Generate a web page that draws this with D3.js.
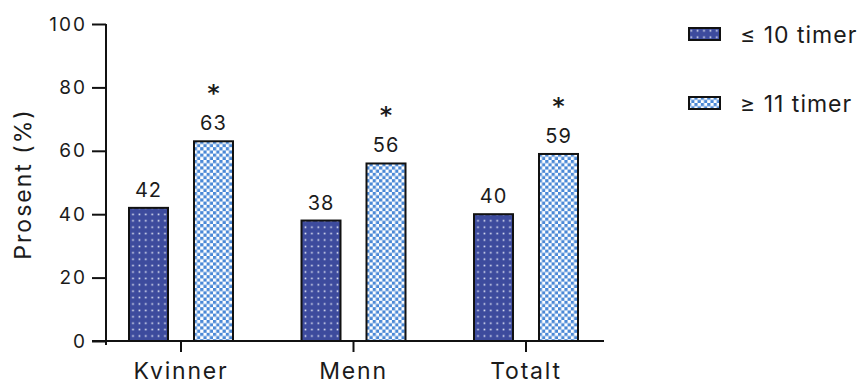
<!DOCTYPE html>
<html>
<head>
<meta charset="utf-8">
<script src="https://cdn.jsdelivr.net/npm/d3@7"></script>
<style>
  body { margin: 0; background: #fff; }
  svg { display: block; }
  text { font-family: Inter, "Noto Sans", sans-serif; fill: #1b1b1b; }
</style>
</head>
<body>
<svg id="chart" width="864" height="385"></svg>
<script>
// Share of respondents (%) by gender and weekly hours
const categories = ["Kvinner", "Menn", "Totalt"];
const seriesNames = ["≤ 10 timer", "≥ 11 timer"];
const shortHours = [42, 38, 40];   // ≤ 10 timer
const longHours = [63, 56, 59];    // ≥ 11 timer
const significant = [true, true, true]; // marked with * above the ≥ 11 timer bar
const yTicks = [0, 20, 40, 60, 80, 100];
const yTitle = "Prosent (%)";

const series = [shortHours, longHours];

const svg = d3.select("#chart");
const defs = svg.append("defs");

// dotted fill: dark blue with small white dots
const dots = defs.append("pattern")
  .attr("id", "pat-dots").attr("patternUnits", "userSpaceOnUse")
  .attr("width", 6.4).attr("height", 6.4);
dots.append("rect").attr("width", 6.4).attr("height", 6.4).attr("fill", "#3d4b9d");
dots.append("rect").attr("x", 2.4).attr("y", 2.4).attr("width", 1.6).attr("height", 1.6).attr("fill", "#e8ebf7");

// checkered fill: light blue and white
const check = defs.append("pattern")
  .attr("id", "pat-check").attr("patternUnits", "userSpaceOnUse")
  .attr("width", 6.4).attr("height", 6.4);
check.append("rect").attr("width", 6.4).attr("height", 6.4).attr("fill", "#ffffff");
check.append("rect").attr("width", 3.2).attr("height", 3.2).attr("fill", "#4a88d6");
check.append("rect").attr("x", 3.2).attr("y", 3.2).attr("width", 3.2).attr("height", 3.2).attr("fill", "#4a88d6");

const fills = ["url(#pat-dots)", "url(#pat-check)"];

const y = d3.scaleLinear().domain([0, 100]).range([341, 24]);
const x = d3.scaleBand().domain(categories).range([94.75, 612.25]).padding(0);
const sub = d3.scaleBand().domain([0, 1]).range([-52, 52]).paddingInner(0.4).paddingOuter(0);

const axisX0 = 106, axisX1 = 604;

// y axis
const yAxis = svg.append("g")
  .attr("transform", `translate(${axisX0},0)`)
  .call(d3.axisLeft(y).tickValues(yTicks).tickSize(14).tickSizeOuter(0).tickPadding(5));
yAxis.select(".domain").attr("d", `M0,${y(100)}V${y(0) + 4}`);
yAxis.selectAll("line, .domain").attr("stroke", "#111").attr("stroke-width", 2);
yAxis.selectAll("text")
  .style("font-size", "19px").style("letter-spacing", "2px")
  .attr("fill", "#1b1b1b");

// x axis
const xAxis = svg.append("g")
  .attr("transform", `translate(0,${y(0)})`)
  .call(d3.axisBottom(x).tickSize(11).tickSizeOuter(0).tickPadding(10));
xAxis.select(".domain").attr("d", `M${axisX0 - 14},0H${axisX1}`);
xAxis.selectAll("line, .domain").attr("stroke", "#111").attr("stroke-width", 2);
xAxis.selectAll("text")
  .style("font-size", "23px").style("letter-spacing", "1.8px")
  .attr("dy", null).attr("y", 38)
  .attr("fill", "#1b1b1b");

// bars
const groups = svg.append("g").selectAll("g")
  .data(categories).join("g")
  .attr("transform", d => `translate(${x(d) + x.bandwidth() / 2},0)`);

series.forEach((vals, s) => {
  groups.append("rect")
    .attr("x", sub(s))
    .attr("y", (d, i) => y(vals[i]))
    .attr("width", sub.bandwidth())
    .attr("height", (d, i) => y(0) - y(vals[i]))
    .attr("fill", fills[s])
    .attr("stroke", "#111")
    .attr("stroke-width", 2);

  groups.append("text")
    .attr("x", sub(s) + sub.bandwidth() / 2)
    .attr("y", (d, i) => y(vals[i]) - 11)
    .attr("text-anchor", "middle")
    .style("font-size", "20px").style("letter-spacing", "1px")
    .text((d, i) => vals[i]);
});

// significance markers
groups.filter((d, i) => significant[i]).append("text")
  .attr("x", sub(1) + sub.bandwidth() / 2)
  .attr("y", d => y(longHours[categories.indexOf(d)]) - 40)
  .attr("text-anchor", "middle")
  .style("font-family", "'DejaVu Sans', sans-serif")
  .style("font-size", "23px")
  .style("font-weight", "600")
  .text("*");

// y title
svg.append("text")
  .attr("transform", `translate(31,184) rotate(-90)`)
  .attr("text-anchor", "middle")
  .style("font-size", "23px").style("letter-spacing", "2px")
  .text(yTitle);

// legend
const legend = svg.append("g").selectAll("g")
  .data(seriesNames).join("g")
  .attr("transform", (d, i) => `translate(688,${34 + i * 69})`);
legend.append("rect")
  .attr("x", 1).attr("y", -6).attr("width", 31).attr("height", 12)
  .attr("fill", (d, i) => fills[i])
  .attr("stroke", "#111").attr("stroke-width", 2);
legend.append("text")
  .attr("x", 52).attr("y", 8.5)
  .style("font-size", "23px").style("letter-spacing", "1px")
  .text(d => d);
</script>
</body>
</html>
